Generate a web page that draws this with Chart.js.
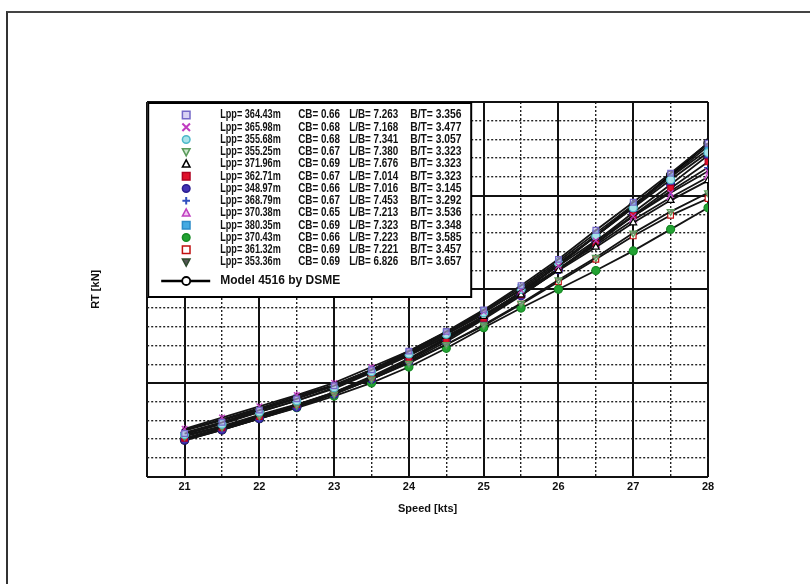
<!DOCTYPE html>
<html>
<head>
<meta charset="utf-8">
<script src="https://cdn.jsdelivr.net/npm/chart.js"></script>
<style>
  body { margin: 0; background: #fff; }
  #wrap { position: relative; width: 810px; height: 584px; }
  #frame { position: absolute; left: 6px; top: 11px; right: -2px; bottom: -2px;
           border-left: 2px solid #333; border-top: 2px solid #444; }
  canvas { position: absolute; left: 0; top: 0; }
</style>
</head>
<body>
<div id="wrap">
  <div id="frame"></div>
  <canvas id="rtChart" width="810" height="584"></canvas>
</div>
<script>
// speeds in knots
const speeds = [21, 21.5, 22, 22.5, 23, 23.5, 24, 24.5, 25, 25.5, 26, 26.5, 27, 27.5, 28];
const xTicks = [20.5, 21, 22, 23, 24, 25, 26, 27, 28];

// ship particulars for legend
const lpp = ['364.43', '365.98', '355.68', '355.25', '371.96', '362.71', '348.97', '368.79', '370.38', '380.35', '370.43', '361.32', '353.36'];
const cb  = ['0.66', '0.68', '0.68', '0.67', '0.69', '0.67', '0.66', '0.67', '0.65', '0.69', '0.66', '0.69', '0.69'];
const lb  = ['7.263', '7.168', '7.341', '7.380', '7.676', '7.014', '7.016', '7.453', '7.213', '7.323', '7.223', '7.221', '6.826'];
const bt  = ['3.356', '3.477', '3.057', '3.323', '3.323', '3.323', '3.145', '3.292', '3.536', '3.348', '3.585', '3.457', '3.657'];
const modelLabel = 'Model 4516 by DSME';

// total resistance RT [kN]
const rt01 = [1460, 1580, 1710, 1830, 1970, 2140, 2340, 2550, 2780, 3040, 3320, 3630, 3930, 4240, 4560];
const rt02 = [1510, 1630, 1750, 1870, 2000, 2170, 2340, 2540, 2760, 2990, 3250, 3520, 3780, 4030, 4260];
const rt03 = [1450, 1560, 1690, 1810, 1950, 2120, 2310, 2520, 2750, 3000, 3280, 3570, 3870, 4170, 4460];
const rt04 = [1430, 1530, 1650, 1760, 1880, 2040, 2210, 2410, 2620, 2850, 3100, 3340, 3600, 3830, 4030];
const rt05 = [1490, 1600, 1720, 1840, 1970, 2130, 2300, 2500, 2710, 2940, 3200, 3450, 3710, 3950, 4160];
const rt06 = [1410, 1520, 1640, 1770, 1900, 2060, 2250, 2460, 2690, 2940, 3210, 3490, 3790, 4080, 4360];
const rt07 = [1390, 1500, 1620, 1740, 1880, 2040, 2230, 2440, 2680, 2930, 3210, 3510, 3820, 4120, 4430];
const rt08 = [1460, 1570, 1690, 1810, 1940, 2110, 2290, 2490, 2710, 2960, 3220, 3490, 3780, 4050, 4300];
const rt09 = [1500, 1610, 1730, 1860, 1980, 2140, 2320, 2520, 2730, 2960, 3220, 3470, 3740, 3980, 4200];
const rt10 = [1470, 1580, 1710, 1840, 1970, 2140, 2330, 2540, 2770, 3020, 3300, 3600, 3900, 4200, 4490];
const rt11 = [1400, 1505, 1620, 1735, 1860, 2000, 2170, 2370, 2590, 2800, 3000, 3200, 3410, 3640, 3870];
const rt12 = [1440, 1540, 1660, 1770, 1890, 2040, 2220, 2410, 2610, 2840, 3080, 3320, 3570, 3790, 3970];
const rt13 = [1400, 1510, 1640, 1760, 1900, 2070, 2260, 2480, 2710, 2970, 3260, 3570, 3880, 4200, 4530];
const rtModel = [1390, 1500, 1620, 1750, 1890, 2060, 2250, 2470, 2710, 2970, 3260, 3570, 3890, 4220, 4560];

const shipRt = [rt01, rt02, rt03, rt04, rt05, rt06, rt07, rt08, rt09, rt10, rt11, rt12, rt13];

// y axis (tick labels not shown in the original)
const yMin = 1000, yMax = 5000, yMajor = 1000, yMinor = 200;
const xMin = 20.5, xMax = 28;

// marker styles per ship
const markers = [
    { style: 'rect', rot: 0, fill: 'rgba(190,180,235,0.6)', stroke: '#7468c8' },
    { style: 'crossRot', rot: 0, fill: '#c03cc0', stroke: '#c03cc0' },
    { style: 'circle', rot: 0, fill: '#a8e2ea', stroke: '#4cb8c8' },
    { style: 'triangle', rot: 180, fill: 'rgba(170,215,170,0.6)', stroke: '#5a9a5a' },
    { style: 'triangle', rot: 0, fill: '#ffffff', stroke: '#000000' },
    { style: 'rect', rot: 0, fill: '#e0102a', stroke: '#b00020' },
    { style: 'circle', rot: 0, fill: '#4232b4', stroke: '#2a1e90' },
    { style: 'cross', rot: 0, fill: '#3050c0', stroke: '#3050c0' },
    { style: 'triangle', rot: 0, fill: '#f2c8f2', stroke: '#c040c0' },
    { style: 'rect', rot: 0, fill: '#44aae2', stroke: '#2c8cc8' },
    { style: 'circle', rot: 0, fill: '#22a232', stroke: '#168a24' },
    { style: 'rect', rot: 0, fill: '#ffffff', stroke: '#c01010' },
    { style: 'triangle', rot: 180, fill: '#555555', stroke: '#2e4a2e' }
];

const FONT = "'Liberation Sans Narrow', 'Liberation Sans', Arial, sans-serif";

const toPoints = vals => vals.map((v, i) => ({ x: speeds[i], y: v }));

const datasets = shipRt.map((vals, i) => ({
    label: 'Lpp= ' + lpp[i] + 'm CB= ' + cb[i] + ' L/B= ' + lb[i] + ' B/T= ' + bt[i],
    data: toPoints(vals),
    borderColor: '#141414',
    borderWidth: 1.8,
    pointStyle: markers[i].style,
    pointRotation: markers[i].rot,
    pointRadius: 4,
    pointBorderWidth: 1.2,
    pointBackgroundColor: markers[i].fill,
    pointBorderColor: markers[i].stroke,
    tension: 0
}));

datasets.push({
    label: modelLabel,
    data: toPoints(rtModel),
    borderColor: '#000',
    borderWidth: 2.2,
    pointStyle: 'circle',
    pointRadius: 4,
    pointBorderWidth: 1.5,
    pointBackgroundColor: '#fff',
    pointBorderColor: '#000',
    tension: 0
});

// draws a legend marker
function drawMarker(ctx, m, x, y, r) {
    ctx.save();
    ctx.translate(x, y);
    ctx.rotate(m.rot * Math.PI / 180);
    ctx.fillStyle = m.fill;
    ctx.strokeStyle = m.stroke;
    ctx.lineWidth = 1.5;
    ctx.beginPath();
    if (m.style === 'rect') {
        ctx.rect(-r, -r, 2 * r, 2 * r);
        ctx.fill(); ctx.stroke();
    } else if (m.style === 'circle') {
        ctx.arc(0, 0, r, 0, Math.PI * 2);
        ctx.fill(); ctx.stroke();
    } else if (m.style === 'triangle') {
        ctx.moveTo(0, -r * 1.1);
        ctx.lineTo(r, r * 0.8);
        ctx.lineTo(-r, r * 0.8);
        ctx.closePath();
        ctx.fill(); ctx.stroke();
    } else if (m.style === 'crossRot') {
        ctx.moveTo(-r, -r); ctx.lineTo(r, r);
        ctx.moveTo(r, -r); ctx.lineTo(-r, r);
        ctx.lineWidth = 2;
        ctx.stroke();
    } else if (m.style === 'cross') {
        ctx.moveTo(0, -r); ctx.lineTo(0, r);
        ctx.moveTo(-r, 0); ctx.lineTo(r, 0);
        ctx.lineWidth = 2;
        ctx.stroke();
    }
    ctx.restore();
}

// condensed text helper
function narrowText(ctx, text, x, y, sx) {
    ctx.save();
    ctx.translate(x, y);
    ctx.scale(sx, 1);
    ctx.fillText(text, 0, 0);
    ctx.restore();
}

// boxed legend inside the plot, upper left
const boxLegend = {
    id: 'boxLegend',
    afterDatasetsDraw(chart) {
        const ctx = chart.ctx;
        const area = chart.chartArea;
        const x0 = area.left, y0 = area.top;
        ctx.save();
        ctx.fillStyle = '#fff';
        ctx.fillRect(x0, y0, 324, 195);
        ctx.strokeStyle = '#000';
        ctx.lineWidth = 2;
        ctx.strokeRect(x0 + 1, y0 + 1, 323, 194);

        ctx.font = 'bold 12px ' + FONT;
        ctx.textBaseline = 'middle';
        for (let i = 0; i < lpp.length; i++) {
            const y = y0 + 13 + i * 12.25;
            drawMarker(ctx, markers[i], x0 + 39, y, 3.8);
            ctx.fillStyle = '#111';
            narrowText(ctx, 'Lpp= ' + lpp[i] + 'm', x0 + 73, y, 0.76);
            narrowText(ctx, 'CB= ' + cb[i], x0 + 151, y, 0.82);
            narrowText(ctx, 'L/B= ' + lb[i], x0 + 202, y, 0.82);
            narrowText(ctx, 'B/T= ' + bt[i], x0 + 263, y, 0.86);
        }
        const ym = y0 + 179;
        ctx.strokeStyle = '#000';
        ctx.lineWidth = 2.5;
        ctx.beginPath();
        ctx.moveTo(x0 + 14, ym);
        ctx.lineTo(x0 + 63, ym);
        ctx.stroke();
        ctx.beginPath();
        ctx.arc(x0 + 39, ym, 4, 0, Math.PI * 2);
        ctx.fillStyle = '#fff';
        ctx.fill();
        ctx.lineWidth = 1.8;
        ctx.stroke();
        ctx.fillStyle = '#111';
        ctx.font = 'bold 12px ' + FONT;
        ctx.fillText(modelLabel, x0 + 73, ym);
        ctx.restore();
    }
};

const isInt = v => Math.abs(v - Math.round(v)) < 1e-6;

new Chart(document.getElementById('rtChart').getContext('2d'), {
    type: 'line',
    data: { datasets: datasets },
    options: {
        responsive: false,
        animation: false,
        layout: { padding: { left: 80, right: 102, top: 102, bottom: 68 } },
        plugins: {
            legend: { display: false },
            tooltip: { enabled: false }
        },
        scales: {
            x: {
                type: 'linear',
                min: xMin, max: xMax,
                afterBuildTicks: axis => { axis.ticks = xTicks.map(v => ({ value: v })); },
                ticks: {
                    padding: 4,
                    color: '#111',
                    font: { family: FONT, size: 11, weight: 'bold' },
                    callback: v => isInt(v) ? String(v) : ''
                },
                grid: { color: '#111', lineWidth: 2, drawTicks: false },
                border: { display: false },
                title: {
                    display: true, text: 'Speed [kts]', color: '#111',
                    font: { family: FONT, size: 11, weight: 'bold' },
                    padding: { top: 5, bottom: 0 }
                }
            },
            xMinor: {
                type: 'linear', position: 'top',
                min: xMin, max: xMax,
                ticks: { display: false, stepSize: 0.5 },
                grid: {
                    drawTicks: false, lineWidth: 1.4,
                    color: ctx => (isInt(ctx.tick.value) || ctx.tick.value <= xMin) ? 'rgba(0,0,0,0)' : '#222'
                },
                border: { display: false, dash: [2, 2] }
            },
            y: {
                type: 'linear',
                min: yMin, max: yMax,
                ticks: { display: false, stepSize: yMajor },
                grid: { color: '#111', lineWidth: 2, drawTicks: false },
                border: { display: false },
                title: {
                    display: true, text: 'RT [kN]', color: '#111',
                    font: { family: FONT, size: 11, weight: 'bold' },
                    padding: { top: 9, bottom: 45 }
                }
            },
            yMinor: {
                type: 'linear', position: 'right',
                min: yMin, max: yMax,
                ticks: { display: false, stepSize: yMinor },
                grid: {
                    drawTicks: false, lineWidth: 1.4,
                    color: ctx => (ctx.tick.value % yMajor === 0) ? 'rgba(0,0,0,0)' : '#222'
                },
                border: { display: false, dash: [2, 2] }
            }
        }
    },
    plugins: [boxLegend]
});
</script>
</body>
</html>
